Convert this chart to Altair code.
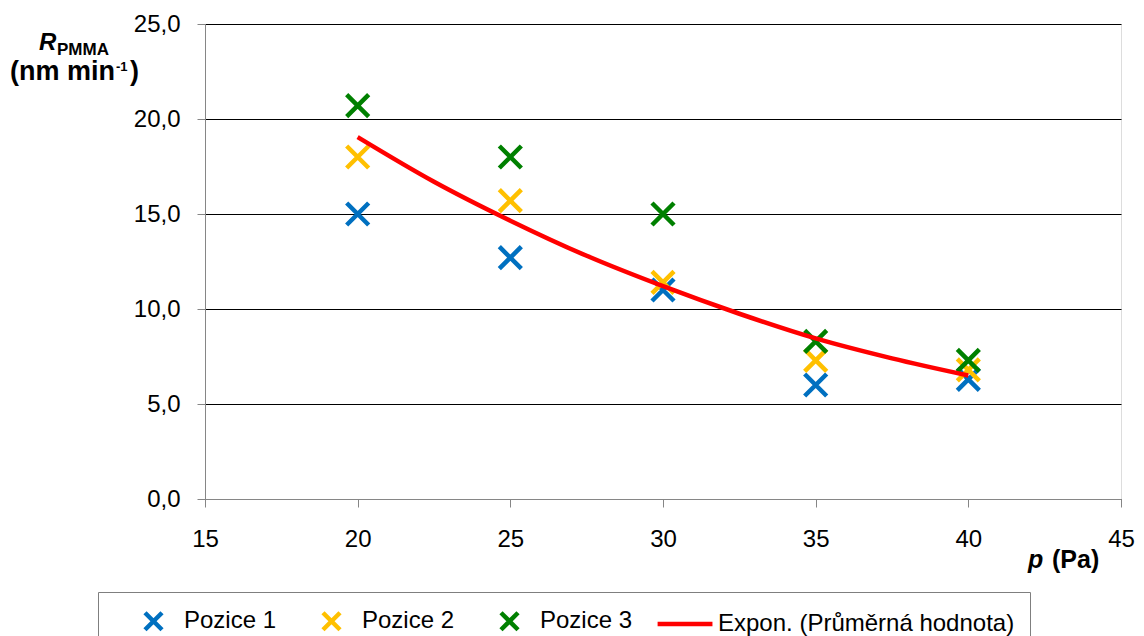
import altair as alt
import pandas as pd

# ---- data ----
pressure = [20, 25, 30, 35, 40]
pozice1 = [15.0, 12.7, 11.0, 6.0, 6.3]
pozice2 = [18.0, 15.7, 11.4, 7.3, 6.8]
pozice3 = [20.7, 18.0, 15.0, 8.3, 7.3]
trend_p = [20, 22.5, 25, 27.5, 30, 32.5, 35, 37.5, 40]
trend_r = [19.05, 16.7, 14.65, 12.8, 11.2, 9.75, 8.45, 7.4, 6.5]
series_names = ["Pozice 1", "Pozice 2", "Pozice 3", "Expon. (Průměrná hodnota)"]
colors = ["#0070C0", "#FFC000", "#008000", "#FF0000"]
x_ticks = [15, 20, 25, 30, 35, 40, 45]
y_ticks = [0, 5, 10, 15, 20, 25]

rows = []
for name, vals in zip(series_names[:3], [pozice1, pozice2, pozice3]):
    for p, r in zip(pressure, vals):
        rows.append({"p": p, "r": r, "series": name})
df_pts = pd.DataFrame(rows)
df_trend = pd.DataFrame({"p": trend_p, "r": trend_r, "series": series_names[3]})

FONT = "Liberation Sans"
XPATH = "M-0.74,-0.74L0.74,0.74M0.74,-0.74L-0.74,0.74"
LPATH = "M-2.6,0L2.17,0"

legend = alt.Legend(
    title=None, orient="none", legendX=-107, legendY=568, direction="horizontal",
    strokeColor="#7f7f7f", padding=15, symbolSize=529, symbolOffset=26.5,
    symbolStrokeWidth=4.5, labelFont=FONT, labelFontSize=24, labelColor="#000000",
    columnPadding=14, labelOffset=16.5, labelLimit=0, fillColor="#ffffff",
)

x_enc = alt.X("p:Q", scale=alt.Scale(domain=[15, 45], nice=False),
              axis=alt.Axis(values=x_ticks, title=None, grid=False, tickSize=8,
                            labelPadding=20, labelFontSize=24, labelFont=FONT,
                            labelColor="#000000", domainColor="#868686",
                            tickColor="#868686", labelFlush=False))
y_enc = alt.Y("r:Q", scale=alt.Scale(domain=[0, 25], nice=False),
              axis=alt.Axis(values=y_ticks, title=None, grid=True, gridColor="#000000",
                            gridWidth=1, tickSize=8, labelPadding=17, labelFontSize=24,
                            labelFont=FONT, labelColor="#000000", domainColor="#868686",
                            tickColor="#868686",
                            labelExpr="replace(format(datum.value, '.1f'), '.', ',')"))

points = alt.Chart(df_pts).mark_point(filled=False, strokeWidth=4.5, size=885, opacity=1).encode(
    x=x_enc, y=y_enc,
    color=alt.Color("series:N", scale=alt.Scale(domain=series_names, range=colors), legend=legend),
    shape=alt.Shape("series:N", scale=alt.Scale(domain=series_names,
                                                range=[XPATH, XPATH, XPATH, LPATH]), legend=legend),
)

line = alt.Chart(df_trend).mark_line(strokeWidth=4.5, interpolate="monotone").encode(
    x="p:Q", y="r:Q",
    color=alt.Color("series:N", scale=alt.Scale(domain=series_names, range=colors), legend=legend),
)

def txt(text, x, y, size, weight="bold", style="normal"):
    return alt.Chart(pd.DataFrame({"t": [text]})).mark_text(
        text=text, align="left", baseline="alphabetic", font=FONT, fontSize=size,
        fontWeight=weight, fontStyle=style, color="#000000"
    ).encode(x=alt.value(x), y=alt.value(y))

labels = [
    txt("R", -166, 26, 24, style="italic"),
    txt("PMMA", -148, 31, 17),
    txt("(nm min", -195, 56, 27),
    txt("-1", -89, 47, 13),
    txt(")", -75, 56, 27),
    txt("p", 823, 544, 25, style="italic"),
    txt("(Pa)", 847, 544, 25),
]

chart = alt.layer(points, line, *labels).properties(
    width=916, height=475,
    autosize=alt.AutoSizeParams(type="none"),
    padding={"left": 197, "top": 16, "right": 15, "bottom": 137},
).configure_view(stroke=None).configure(background="#ffffff")

chart.save("out.html", embed_options={"renderer": "svg", "actions": False})
